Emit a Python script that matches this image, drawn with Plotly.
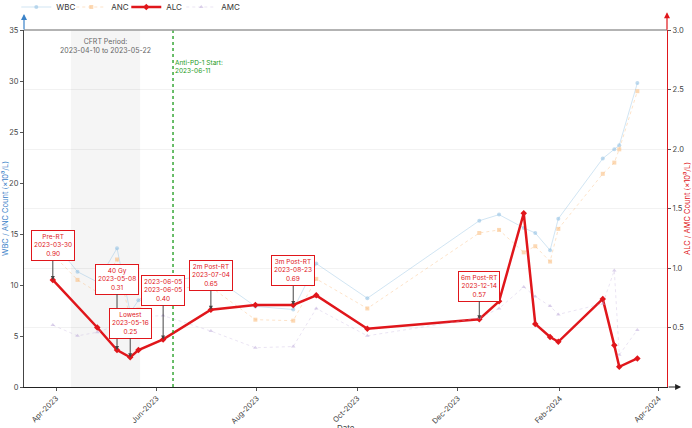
import plotly.graph_objects as go

# ---------------- data ----------------
alc_dates = ["2023-03-30", "2023-04-26", "2023-05-08", "2023-05-16", "2023-05-21", "2023-06-05",
             "2023-07-04", "2023-07-31", "2023-08-23", "2023-09-06", "2023-10-07", "2023-12-14",
             "2023-12-26", "2024-01-10", "2024-01-17", "2024-01-26", "2024-01-31", "2024-02-27",
             "2024-03-05", "2024-03-08", "2024-03-19"]
alc_values = [0.90, 0.50, 0.31, 0.25, 0.31, 0.40, 0.65, 0.69, 0.69, 0.77, 0.49, 0.57,
              0.72, 1.46, 0.53, 0.42, 0.38, 0.74, 0.35, 0.17, 0.24]

cbc_dates = ["2023-03-30", "2023-04-14", "2023-04-26", "2023-05-08", "2023-05-16", "2023-05-21",
             "2023-06-05", "2023-07-04", "2023-07-31", "2023-08-23", "2023-09-06", "2023-10-07",
             "2023-12-14", "2023-12-26", "2024-01-10", "2024-01-17", "2024-01-26", "2024-01-31",
             "2024-02-27", "2024-03-05", "2024-03-08", "2024-03-19"]
wbc_values = [14.3, 11.3, 10.3, 13.6, 7.3, 8.5, 10.3, 11.0, 7.9, 7.6, 12.1, 8.7,
              16.3, 16.9, 15.6, 15.1, 13.4, 16.5, 22.4, 23.3, 23.7, 29.8]
anc_values = [13.0, 10.5, 9.3, 12.5, 6.6, 7.6, 9.7, 9.8, 6.6, 6.5, 10.6, 7.7,
              15.1, 15.4, 13.2, 13.8, 12.3, 15.5, 20.9, 22.0, 23.3, 29.0]
amc_values = [0.52, 0.43, 0.46, 0.52, 0.55, 0.59, 0.60, 0.47, 0.33, 0.34, 0.66, 0.43,
              0.58, 0.66, 0.84, 0.76, 0.68, 0.61, 0.70, 0.98, 0.27, 0.48]

ann_dates = ["2023-03-30", "2023-05-08", "2023-05-16", "2023-06-05", "2023-07-04", "2023-08-23", "2023-12-14"]
ann_labels = ["Pre-RT", "40 Gy", "Lowest", "2023-06-05", "2m Post-RT", "3m Post-RT", "6m Post-RT"]
ann_values = [0.90, 0.31, 0.25, 0.40, 0.65, 0.69, 0.57]
ann_offsets = [-34, -71, -34, -49, -34, -34, -33]

x_tick_vals = ["2023-04-01", "2023-06-01", "2023-08-01", "2023-10-01", "2023-12-01", "2024-02-01", "2024-04-01"]
x_tick_text = ["Apr-2023", "Jun-2023", "Aug-2023", "Oct-2023", "Dec-2023", "Feb-2024", "Apr-2024"]

cfrt_start, cfrt_end = "2023-04-10", "2023-05-22"
pd1_start = "2023-06-11"

FONT = "Inter"
RED = "#e0161b"
BLUE = "#3b82c8"

fig = go.Figure()

fig.add_trace(go.Scatter(x=cbc_dates, y=wbc_values, name="WBC", mode="lines+markers",
                         line=dict(color="rgba(140,190,225,0.40)", width=1),
                         marker=dict(symbol="circle", size=4, color="rgba(140,190,225,0.55)"),
                         yaxis="y"))
fig.add_trace(go.Scatter(x=cbc_dates, y=anc_values, name="ANC", mode="lines+markers",
                         line=dict(color="rgba(250,185,120,0.40)", width=1, dash="dot"),
                         marker=dict(symbol="square", size=4, color="rgba(250,185,120,0.55)"),
                         yaxis="y"))
fig.add_trace(go.Scatter(x=alc_dates, y=alc_values, name="ALC", mode="lines+markers",
                         line=dict(color=RED, width=2.5),
                         marker=dict(symbol="diamond", size=5, color=RED),
                         yaxis="y2"))
fig.add_trace(go.Scatter(x=cbc_dates, y=amc_values, name="AMC", mode="lines+markers",
                         line=dict(color="rgba(185,165,215,0.30)", width=1, dash="dot"),
                         marker=dict(symbol="triangle-up", size=4, color="rgba(185,165,215,0.5)"),
                         yaxis="y2"))
# empty spacer entry so the last legend label is not clipped
fig.add_trace(go.Scatter(x=[None], y=[None], name=" ", mode="lines",
                         line=dict(color="rgba(0,0,0,0)", width=0), hoverinfo="skip"))

shapes = [
    dict(type="rect", xref="x", yref="paper", x0=cfrt_start, x1=cfrt_end, y0=0, y1=1,
         fillcolor="rgba(128,128,128,0.08)", line=dict(width=0), layer="below"),
    dict(type="line", xref="x", yref="paper", x0=pd1_start, x1=pd1_start, y0=0, y1=1,
         line=dict(color="#1a9a1a", width=1.3, dash="dot")),
    dict(type="line", xref="paper", yref="paper", x0=0, x1=1, y0=1, y1=1,
         line=dict(color="#9a9a9a", width=1.5)),
]

annotations = [
    dict(x="2023-05-01", y=0.985, xref="x", yref="paper", yanchor="top",
         text="CFRT Period:<br>2023-04-10 to 2023-05-22", showarrow=False,
         font=dict(size=7, color="#666666", family=FONT)),
    dict(x=pd1_start, y=0.925, xref="x", yref="paper", xanchor="left", yanchor="top",
         text="Anti-PD-1 Start:<br>2023-06-11", showarrow=False, align="left",
         font=dict(size=6.5, color="#1a9a1a", family=FONT)),
    dict(x=0.5, y=0, xref="paper", yref="paper", xanchor="center", yanchor="top", yshift=-34,
         text="Date", showarrow=False, font=dict(size=8, color="#444444", family=FONT)),
]

for d, lab, v, off in zip(ann_dates, ann_labels, ann_values, ann_offsets):
    annotations.append(dict(
        x=d, y=v, xref="x", yref="y2", text=f"{lab}<br>{d}<br>{v:.2f}",
        showarrow=True, arrowhead=2, arrowsize=0.8, arrowwidth=1, arrowcolor="#444444",
        ax=0, ay=off, font=dict(size=6.5, color=RED, family=FONT),
        bgcolor="white", bordercolor=RED, borderwidth=1, borderpad=2))

# axis arrows (left, right, bottom)
annotations += [
    dict(x=0, y=1.045, xref="paper", yref="paper", ax=0, ay=17, showarrow=True,
         arrowhead=2, arrowsize=1, arrowwidth=1.2, arrowcolor=BLUE, text=""),
    dict(x=1, y=1.05, xref="paper", yref="paper", ax=0, ay=19, showarrow=True,
         arrowhead=2, arrowsize=1, arrowwidth=1.2, arrowcolor=RED, text=""),
    dict(x=1.022, y=0, xref="paper", yref="paper", ax=-14, ay=0, showarrow=True,
         arrowhead=2, arrowsize=1, arrowwidth=1.2, arrowcolor="#222222", text=""),
]

fig.update_layout(
    width=692, height=428,
    margin=dict(l=24, r=25, t=30, b=41, autoexpand=False),
    paper_bgcolor="white", plot_bgcolor="white",
    font=dict(family=FONT, size=8, color="#444444"),
    showlegend=True,
    legend=dict(orientation="h", x=-0.012, y=1.105, xanchor="left", yanchor="top",
                font=dict(size=8, color="#333333", family=FONT),
                entrywidth=10, entrywidthmode="pixels", bgcolor="rgba(0,0,0,0)",
                itemwidth=30),
    xaxis=dict(range=["2023-03-12 12:00", "2024-04-06"], tickvals=x_tick_vals, ticktext=x_tick_text,
               tickangle=-45, ticks="outside", ticklen=3, tickcolor="#555555", automargin=False,
               showline=True, linecolor="#222222", linewidth=1.2, showgrid=False, zeroline=False,
               tickfont=dict(size=7.5, color="#444444")),
    yaxis=dict(range=[0, 35], tickvals=[0, 5, 10, 15, 20, 25, 30, 35], ticks="outside", ticklen=3,
               tickcolor="#555555", showline=True, linecolor="#444444", linewidth=1.2, automargin=False,
               showgrid=False, zeroline=False,
               title=dict(text="WBC / ANC Count (×10⁹/L)", font=dict(size=7.5, color=BLUE), standoff=2),
               tickfont=dict(size=7.5, color="#444444")),
    yaxis2=dict(range=[0, 3], tickvals=[0.5, 1.0, 1.5, 2.0, 2.5, 3.0], ticktext=["0.5", "1.0", "1.5", "2.0", "2.5", "3.0"],
                overlaying="y", side="right", ticks="outside", ticklen=3, tickcolor="#555555",
                showline=True, linecolor=RED, linewidth=1.2, automargin=False,
                showgrid=True, gridcolor="rgba(0,0,0,0.05)", gridwidth=1, zeroline=False,
                title=dict(text="ALC / AMC Count (×10⁹/L)", font=dict(size=7.5, color=RED), standoff=2),
                tickfont=dict(size=7.5, color="#444444")),
    shapes=shapes,
    annotations=annotations,
)

fig.write_html("out.html")
